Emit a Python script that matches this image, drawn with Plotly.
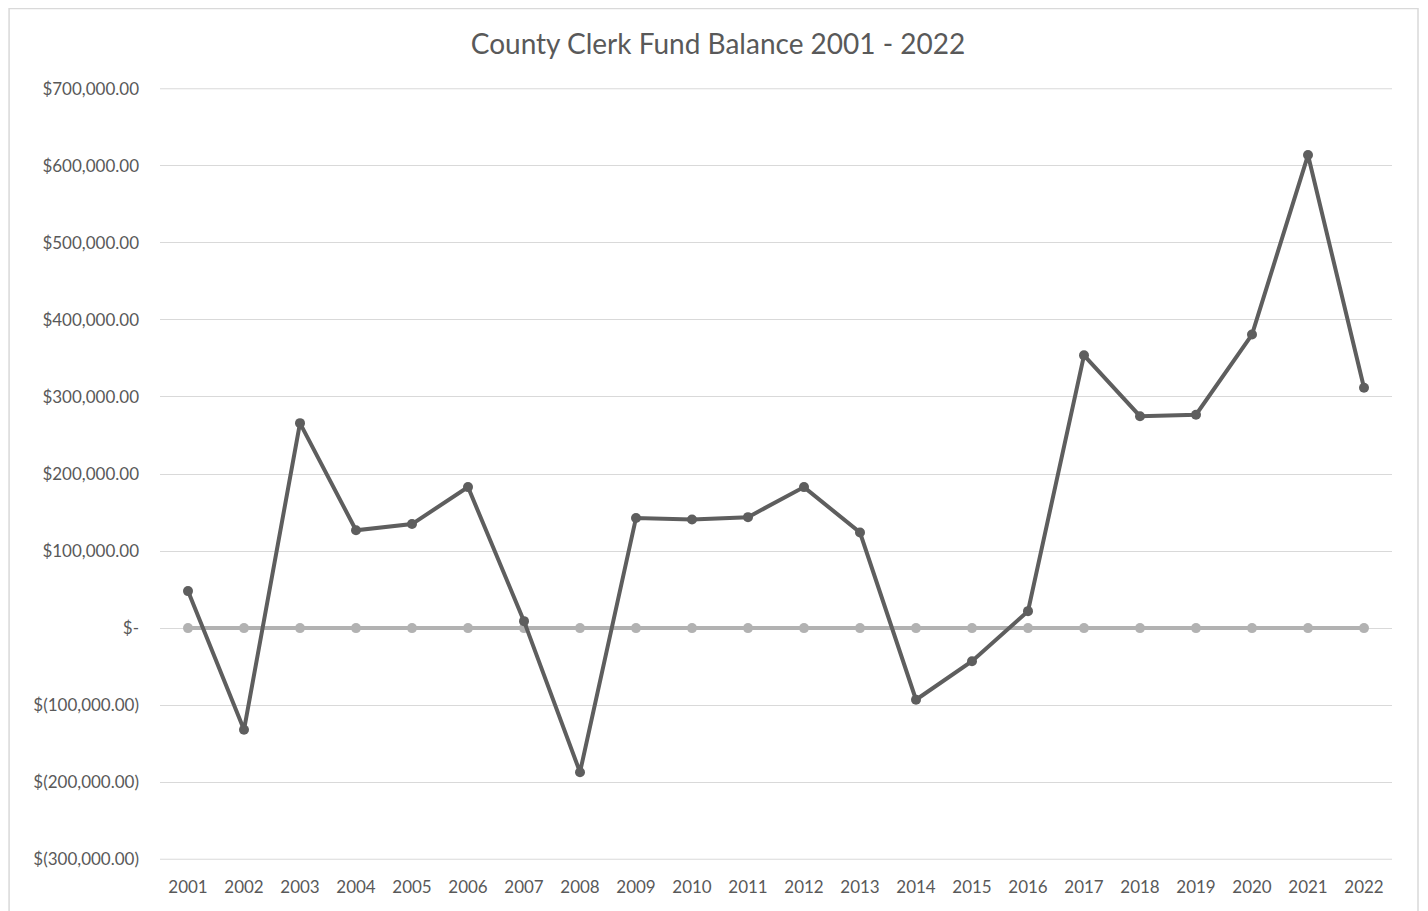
import plotly.graph_objects as go

years = [str(y) for y in range(2001, 2023)]
balance = [48000, -132000, 266000, 127000, 135000, 183000, 9000, -187000,
           143000, 141000, 144000, 183000, 124000, -93000, -43000, 22000,
           354000, 275000, 277000, 381000, 614000, 312000]
baseline = [0] * len(years)

tick_vals = [700000, 600000, 500000, 400000, 300000, 200000, 100000, 0,
             -100000, -200000, -300000]
tick_text = ["$700,000.00", "$600,000.00", "$500,000.00", "$400,000.00",
             "$300,000.00", "$200,000.00", "$100,000.00", "$-",
             "$(100,000.00)", "$(200,000.00)", "$(300,000.00)"]

fig = go.Figure()
fig.add_trace(go.Scatter(x=years, y=baseline, mode="lines+markers",
                         line=dict(color="#b2b2b2", width=4),
                         marker=dict(color="#b2b2b2", size=10),
                         showlegend=False))
fig.add_trace(go.Scatter(x=years, y=balance, mode="lines+markers",
                         line=dict(color="#5e5e5e", width=4),
                         marker=dict(color="#5e5e5e", size=10),
                         showlegend=False))

# gridlines at the range ends (Plotly omits them at the edges)
edge_lines = [dict(type="line", xref="paper", yref="y", x0=0, x1=1, y0=v, y1=v,
                   line=dict(color="#d9d9d9", width=1), layer="below")
              for v in (tick_vals[0], tick_vals[-1])]

fig.update_layout(
    width=1420, height=903,
    margin=dict(l=152, r=36, t=80, b=51),
    paper_bgcolor="white", plot_bgcolor="white",
    font=dict(family="Lato, Open Sans, sans-serif", color="#595959", size=16),
    title=dict(text="County Clerk Fund Balance 2001 - 2022", x=0.5, xanchor="center",
               y=0.960, yanchor="middle",
               font=dict(size=28, color="#595959", family="Lato, Open Sans, sans-serif")),
    xaxis=dict(type="category", range=[-0.5, 21.5], showgrid=False,
               showline=False, ticks="", ticklabelstandoff=15,
               tickfont=dict(size=17, color="#595959")),
    yaxis=dict(range=[-301000, 701000], tickvals=tick_vals, ticktext=tick_text,
               showgrid=True, gridcolor="#d9d9d9", gridwidth=1,
               zeroline=False, showline=False, ticks="",
               tickfont=dict(size=17, color="#595959"), ticklabelstandoff=20),
    shapes=[dict(type="rect", xref="paper", yref="paper",
                 x0=-0.1225, x1=1.0211, y0=-0.08, y1=1.1030,
                 line=dict(color="#d9d9d9", width=1.5), fillcolor="rgba(0,0,0,0)",
                 layer="below")] + edge_lines,
)

fig.write_html("out.html")
